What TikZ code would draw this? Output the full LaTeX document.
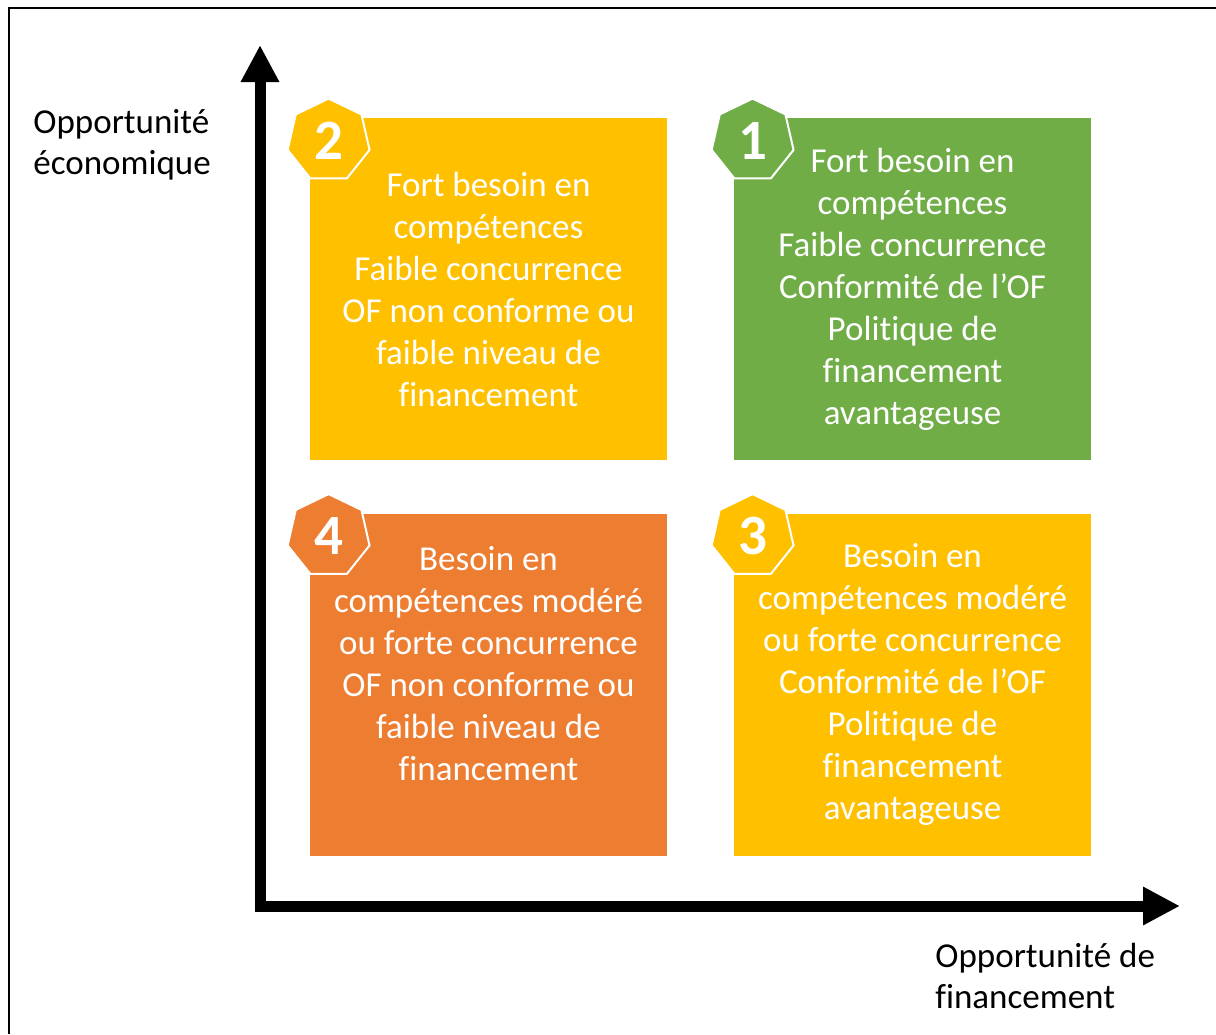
\documentclass[tikz,border=0pt]{standalone}
\usepackage{fontspec}
\setmainfont{Carlito}[RawFeature=-liga, RawFeature=-clig, RawFeature=-dlig, RawFeature=-calt]
\usetikzlibrary{shapes.geometric,arrows.meta}

\definecolor{quadyellow}{HTML}{FFC000}
\definecolor{quadgreen}{HTML}{70AD47}
\definecolor{quadorange}{HTML}{ED7D31}

\tikzset{
  quadbox/.style={minimum width=178.5pt, minimum height=171pt, inner sep=0pt,
    text=white, align=center, font=\fontsize{17.5}{21}\selectfont},
  badge/.style={regular polygon, regular polygon sides=7, minimum size=42pt,
    inner sep=0pt, draw=white, line width=1pt, text=white,
    font=\fontsize{28.5}{30}\selectfont\bfseries},
  axislabel/.style={align=left, anchor=west, inner sep=0pt,
    font=\fontsize{17.5}{20.5}\selectfont},
  axis/.style={line width=5.5pt,
    {Triangle[length=18.5pt,width=18pt]}-{Triangle[length=18.5pt,width=18pt]}},
}

\NewDocumentCommand{\quadrant}{mmmmm}{%
\node[quadbox, fill=#4] (q#1) at (#2,#3) {#5};%chktex 1
\node[badge, fill=#4] (b#1) at ([shift={(19,23)}]q#1.north west) {#1};%chktex 1
}

\begin{document}
\begin{tikzpicture}[x=0.5pt, y=-0.5pt]
\useasboundingbox (0,0) rectangle (1216,1034);
\draw[line width=1pt] (9,1034) -- (9,8) -- (1216,8);

\coordinate (o) at (260,906);
\coordinate (ytop) at (260,45);
\coordinate (xend) at (1180,906);
\draw[axis] (ytop) -- (o) -- (xend);

\node[axislabel] (ylab) at (33,144.5) {Opportunité\\économique};
\node[axislabel] (xlab) at (935,976) {Opportunité de\\financement};

\quadrant{2}{488.5}{289}{quadyellow}{Fort besoin en\\compétences\\Faible concurrence\\OF non conforme ou\\faible niveau de\\financement}
\quadrant{1}{912.5}{289}{quadgreen}{Fort besoin en\\compétences\\Faible concurrence\\Conformité de l’OF\\Politique de\\financement\\avantageuse}
\quadrant{4}{488.5}{684.5}{quadorange}{Besoin en\\compétences modéré\\ou forte concurrence\\OF non conforme ou\\faible niveau de\\financement\\\mbox{}}
\quadrant{3}{912.5}{684.5}{quadyellow}{Besoin en\\compétences modéré\\ou forte concurrence\\Conformité de l’OF\\Politique de\\financement\\avantageuse}
\end{tikzpicture}
\end{document}
